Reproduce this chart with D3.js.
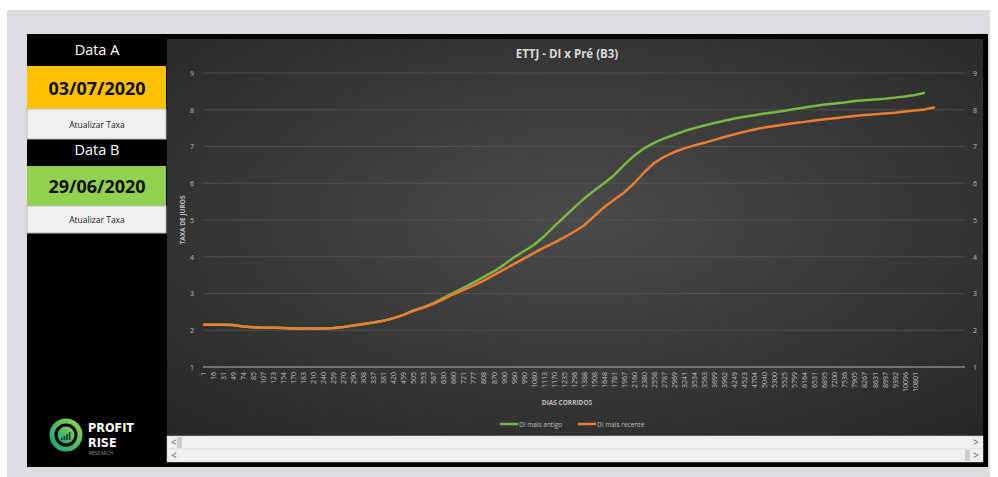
<!DOCTYPE html>
<html>
  <head>
    <meta charset="utf-8">
    <title>ETTJ - DI x Pré (B3)</title>
    <script src="https://d3js.org/d3.v7.min.js"></script>
    <style>
      body { margin: 0; background: #ffffff; font-family: "Open Sans", sans-serif; }
      svg { display: block; }
    </style>
  </head>
  <body>
    <svg id="sheet" width="998" height="477"></svg>
    <script>
      // x axis categories (days), as labelled on the sheet
      var dayLabels = ["1", "16", "31", "49", "74", "85", "107", "123", "154", "170",
        "183", "210", "240", "259", "270", "290", "308", "337", "381", "420",
        "459", "505", "553", "587", "630", "660", "721", "777", "808", "870",
        "900", "960", "990", "1080", "1113", "1170", "1235", "1296", "1388", "1508",
        "1648", "1781", "1967", "2160", "2380", "2558", "2787", "2969", "3241", "3534",
        "3563", "3699", "3962", "4249", "4523", "4704", "5040", "5300", "5525", "5799",
        "6164", "6531", "6895", "7200", "7536", "7905", "8267", "8631", "8997", "9392",
        "10096", "10801"];
      // DI mais antigo (green)
      var diAntigo = [2.15, 2.15, 2.15, 2.14, 2.10, 2.08, 2.07, 2.07, 2.06, 2.05,
        2.05, 2.05, 2.05, 2.06, 2.09, 2.13, 2.17, 2.21, 2.26, 2.33,
        2.42, 2.54, 2.63, 2.74, 2.88, 3.02, 3.16, 3.30, 3.45, 3.60,
        3.78, 3.98, 4.15, 4.32, 4.55, 4.82, 5.08, 5.33, 5.58, 5.80,
        6.00, 6.22, 6.50, 6.75, 6.95, 7.10, 7.22, 7.32, 7.42, 7.50,
        7.57, 7.64, 7.70, 7.76, 7.81, 7.85, 7.90, 7.93, 7.97, 8.02,
        8.06, 8.10, 8.14, 8.17, 8.20, 8.24, 8.26, 8.28, 8.30, 8.33,
        8.36, 8.40, 8.46];
      // DI mais recente (orange)
      var diRecente = [2.15, 2.15, 2.15, 2.14, 2.10, 2.08, 2.07, 2.07, 2.06, 2.05,
        2.05, 2.05, 2.05, 2.06, 2.09, 2.13, 2.17, 2.21, 2.26, 2.33,
        2.42, 2.53, 2.62, 2.72, 2.85, 2.98, 3.10, 3.22, 3.35, 3.50,
        3.65, 3.80, 3.95, 4.10, 4.25, 4.38, 4.52, 4.68, 4.85, 5.10,
        5.35, 5.55, 5.75, 6.00, 6.30, 6.55, 6.72, 6.85, 6.95, 7.03,
        7.10, 7.18, 7.26, 7.33, 7.40, 7.46, 7.52, 7.56, 7.60, 7.64,
        7.67, 7.71, 7.74, 7.77, 7.80, 7.83, 7.86, 7.88, 7.90, 7.92,
        7.95, 7.98, 8.01, 8.07];
      var yTicks = [1, 2, 3, 4, 5, 6, 7, 8, 9];
      var seriesNames = ["DI mais antigo", "DI mais recente"];
      var seriesColors = ["#78b843", "#ed7d31"];

      var svg = d3.select("#sheet");

      // grey workbook frame
      svg.append("rect").attr("x", 7).attr("y", 10).attr("width", 983).attr("height", 467).attr("fill", "#dcdce1");
      svg.append("rect").attr("x", 27).attr("y", 34).attr("width", 961).attr("height", 433).attr("fill", "#000");

      // left control panel
      var panel = svg.append("g");
      function dateBlock(y, name, date, colour) {
        panel.append("text").attr("x", 97).attr("y", y + 21).attr("text-anchor", "middle")
          .attr("fill", "#fff").attr("font-size", 14.5).text(name);
        panel.append("rect").attr("x", 27).attr("y", y + 32).attr("width", 139).attr("height", y == 34 ? 43 : 40).attr("fill", colour);
        panel.append("text").attr("x", 97).attr("y", y + (y == 34 ? 61 : 59)).attr("text-anchor", "middle")
          .attr("fill", "#111").attr("font-size", 18).attr("font-weight", "bold").text(date);
      }
      dateBlock(34, "Data A", "03/07/2020", "#ffc000");
      panel.append("rect").attr("x", 27).attr("y", 109).attr("width", 139).attr("height", 30).attr("fill", "#f0f0f0").attr("stroke", "#bdbdbd");
      panel.append("text").attr("x", 97).attr("y", 128).attr("text-anchor", "middle").attr("font-size", 8.5).attr("fill", "#222").text("Atualizar Taxa");
      dateBlock(134, "Data B", "29/06/2020", "#92d050");
      panel.append("rect").attr("x", 27).attr("y", 206).attr("width", 139).attr("height", 27).attr("fill", "#f0f0f0").attr("stroke", "#bdbdbd");
      panel.append("text").attr("x", 97).attr("y", 223).attr("text-anchor", "middle").attr("font-size", 8.5).attr("fill", "#222").text("Atualizar Taxa");

      // logo
      var defs = svg.append("defs");
      var lg = defs.append("linearGradient").attr("id", "logoGrad").attr("x1", 0).attr("y1", 1).attr("x2", 1).attr("y2", 0);
      lg.append("stop").attr("offset", 0).attr("stop-color", "#1aa37a");
      lg.append("stop").attr("offset", 1).attr("stop-color", "#8fd14f");
      var logo = svg.append("g");
      logo.append("circle").attr("cx", 66).attr("cy", 435).attr("r", 14).attr("fill", "none").attr("stroke", "url(#logoGrad)").attr("stroke-width", 5);
      logo.append("circle").attr("cx", 66).attr("cy", 435).attr("r", 8.5).attr("fill", "url(#logoGrad)");
      logo.selectAll(".bar").data([2, 4, 6, 8]).enter().append("rect")
        .attr("x", function(d, i) { return 61 + i * 2.6; }).attr("y", function(d) { return 440 - d; })
        .attr("width", 1.6).attr("height", function(d) { return d; }).attr("fill", "#0c3b2e");
      logo.append("text").attr("x", 88).attr("y", 432).attr("fill", "#fff").attr("font-family", "DejaVu Sans Condensed")
        .attr("font-size", 12.5).attr("font-weight", "bold").text("PROFIT");
      logo.append("text").attr("x", 88).attr("y", 447).attr("fill", "#fff").attr("font-family", "DejaVu Sans Condensed")
        .attr("font-size", 12.5).attr("font-weight", "bold").text("RISE");
      logo.append("text").attr("x", 89).attr("y", 455).attr("fill", "#8c8c8c").attr("font-size", 5).text("RESEARCH");

      // chart area
      var rg = defs.append("radialGradient").attr("id", "chartBg").attr("cx", "50%").attr("cy", "45%").attr("r", "75%");
      rg.append("stop").attr("offset", 0).attr("stop-color", "#4b4b4b");
      rg.append("stop").attr("offset", 1).attr("stop-color", "#262626");
      svg.append("rect").attr("x", 167).attr("y", 39).attr("width", 816).attr("height", 397).attr("fill", "url(#chartBg)");

      var plot = { left: 203, right: 965, top: 73, bottom: 367 };
      var x = d3.scaleLinear().domain([0, 76]).range([plot.left, plot.right]);
      var y = d3.scaleLinear().domain([1, 9]).range([plot.bottom, plot.top]);

      svg.append("text").attr("x", 567).attr("y", 58).attr("text-anchor", "middle")
        .attr("fill", "#d9d9d9").attr("font-size", 11.5).attr("font-weight", "bold").text("ETTJ - DI x Pré (B3)");

      // gridlines
      svg.append("g").selectAll("line").data(yTicks).enter().append("line")
        .attr("x1", plot.left).attr("x2", plot.right)
        .attr("y1", function(d) { return y(d); }).attr("y2", function(d) { return y(d); })
        .attr("stroke", function(d) { return d == 1 ? "#8a8a8a" : "#575757"; })
        .attr("stroke-width", function(d) { return d == 1 ? 1.5 : 0.8; });

      // y axes, left and right
      var axisL = d3.axisLeft(y).tickValues(yTicks).tickSize(0).tickPadding(9);
      var axisR = d3.axisRight(y).tickValues(yTicks).tickSize(0).tickPadding(8);
      [svg.append("g").attr("transform", "translate(" + plot.left + ",0)").call(axisL),
       svg.append("g").attr("transform", "translate(" + plot.right + ",0)").call(axisR)].forEach(function(g) {
        g.select(".domain").remove();
        g.selectAll("text").attr("fill", "#bfbfbf").attr("font-size", 7).attr("font-family", "Open Sans");
      });
      svg.append("text").attr("transform", "translate(185,220) rotate(-90)").attr("text-anchor", "middle")
        .attr("fill", "#bfbfbf").attr("font-size", 6.5).attr("font-weight", "bold").text("TAXA DE JUROS");

      // x axis labels (category names)
      var axisX = d3.axisBottom(x).tickValues(d3.range(dayLabels.length))
        .tickFormat(function(i) { return dayLabels[i]; }).tickSize(0).tickPadding(0);
      var gx = svg.append("g").attr("transform", "translate(0," + plot.bottom + ")").call(axisX);
      gx.select(".domain").remove();
      gx.selectAll("text").attr("fill", "#bfbfbf").attr("font-size", 7).attr("font-family", "Open Sans")
        .attr("text-anchor", "end").attr("dy", "0.32em")
        .attr("transform", "translate(0,5) rotate(-90)");
      svg.append("text").attr("x", 567).attr("y", 405).attr("text-anchor", "middle")
        .attr("fill", "#bfbfbf").attr("font-size", 6.5).attr("font-weight", "bold").text("DIAS CORRIDOS");

      // series
      var line = d3.line().x(function(d, i) { return x(i); }).y(function(d) { return y(d); });
      [diAntigo, diRecente].forEach(function(s, k) {
        svg.append("path").attr("d", line(s)).attr("fill", "none")
          .attr("stroke", seriesColors[k]).attr("stroke-width", 2.5).attr("stroke-linejoin", "round");
      });

      // legend
      var legX = [500, 578];
      seriesNames.forEach(function(n, k) {
        svg.append("line").attr("x1", legX[k]).attr("x2", legX[k] + 18).attr("y1", 424).attr("y2", 424)
          .attr("stroke", seriesColors[k]).attr("stroke-width", 2.5);
        svg.append("text").attr("x", legX[k] + 19).attr("y", 426.5).attr("fill", "#bfbfbf").attr("font-size", 6.5).text(n);
      });

      // scrollbars
      [[436, 177], [449, 965]].forEach(function(r) {
        svg.append("rect").attr("x", 167).attr("y", r[0]).attr("width", 816).attr("height", 13).attr("fill", "#f0f0f0").attr("stroke", "#d4d4d4").attr("stroke-width", 0.5);
        svg.append("rect").attr("x", r[1]).attr("y", r[0] + 1).attr("width", 5).attr("height", 11).attr("fill", "#cdcdcd");
        svg.append("text").attr("x", 171).attr("y", r[0] + 10).attr("font-size", 10).attr("fill", "#606060").text("<");
        svg.append("text").attr("x", 973).attr("y", r[0] + 10).attr("font-size", 10).attr("fill", "#606060").text(">");
      });
    </script>
  </body>
</html>
